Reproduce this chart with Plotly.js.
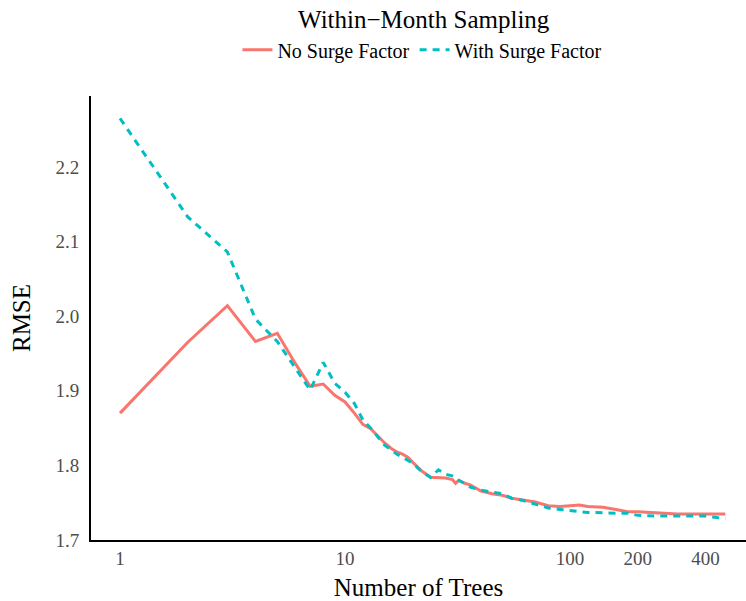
<!DOCTYPE html>
<html>
<head>
<meta charset="utf-8">
<script src="https://cdn.plot.ly/plotly-3.0.1.min.js"></script>
<style>
html,body{margin:0;padding:0;background:#fff;}
#chart{width:746px;height:601px;}
</style>
</head>
<body>
<div id="chart"></div>
<script>
const trees = [1,2,3,4,5,6,7,8,9,10,11,12,13,14,15,16,17,18,19,20,22,24,26,28,30,31,32,34,36,40,45,50,55,60,65,70,80,90,100,110,120,140,160,180,200,250,300,350,400,450,490];
const noSurge = [1.870,1.965,2.014,1.966,1.977,1.937,1.906,1.909,1.894,1.885,1.870,1.855,1.849,1.839,1.830,1.823,1.818,1.815,1.811,1.804,1.792,1.784,1.784,1.783,1.781,1.776,1.780,1.776,1.774,1.766,1.762,1.760,1.756,1.754,1.752,1.751,1.746,1.745,1.746,1.747,1.745,1.744,1.741,1.738,1.738,1.736,1.735,1.735,1.735,1.735,1.735];
const withSurge = [2.265,2.133,2.086,1.996,1.966,1.930,1.901,1.938,1.910,1.898,1.883,1.861,1.850,1.838,1.827,1.821,1.815,1.811,1.807,1.803,1.791,1.784,1.794,1.788,1.786,1.784,1.780,1.776,1.771,1.767,1.764,1.762,1.756,1.754,1.751,1.748,1.743,1.741,1.739,1.738,1.737,1.736,1.736,1.736,1.733,1.732,1.732,1.732,1.732,1.730,1.729];
const xTicks = [1,10,100,200,400];
const xTickText = ['1','10','100','200','400'];
const yTicks = [1.7,1.8,1.9,2.0,2.1,2.2];
const seriesNames = ['No Surge Factor','With Surge Factor'];

const FONT = 'Liberation Serif, Times New Roman, serif';

const traces = [
  {x: trees, y: noSurge, name: seriesNames[0], type: 'scatter', mode: 'lines',
   line: {color: '#F8766D', width: 3}},
  {x: trees, y: withSurge, name: seriesNames[1], type: 'scatter', mode: 'lines',
   line: {color: '#00BFC4', width: 3, dash: '7px,6px'}}
];

const layout = {
  width: 746, height: 601,
  margin: {l: 91, r: 0, t: 96, b: 61, pad: 0},
  paper_bgcolor: '#fff', plot_bgcolor: '#fff',
  font: {family: FONT, color: '#000'},
  title: {text: 'Within\u2212Month Sampling', font: {family: FONT, size: 25, color: '#000'},
          xref: 'container', x: 0.568, xanchor: 'center', yref: 'container', y: 0.968, yanchor: 'middle'},
  showlegend: true,
  legend: {orientation: 'h', x: 0.506, xanchor: 'center', y: 1.104, yanchor: 'middle',
           font: {family: FONT, size: 20, color: '#000'}, itemwidth: 30, bgcolor: 'rgba(0,0,0,0)'},
  xaxis: {type: 'log', range: [-0.129, 2.782], tickvals: xTicks, ticktext: xTickText,
          showgrid: false, zeroline: false, showline: true, linecolor: '#000', linewidth: 2,
          ticks: '', tickfont: {family: FONT, size: 19, color: '#4d4d4d'},
          title: {text: 'Number of Trees', font: {family: FONT, size: 25, color: '#000'}, standoff: 12}},
  yaxis: {range: [1.7, 2.295], tickvals: yTicks, tickformat: '.1f',
          showgrid: false, zeroline: false, showline: true, linecolor: '#000', linewidth: 2,
          ticks: '', ticklabelstandoff: 6, tickfont: {family: FONT, size: 19, color: '#4d4d4d'},
          title: {text: 'RMSE', font: {family: FONT, size: 25, color: '#000'}, standoff: 18}}
};

Plotly.newPlot('chart', traces, layout, {displayModeBar: false, staticPlot: true});
</script>
</body>
</html>
